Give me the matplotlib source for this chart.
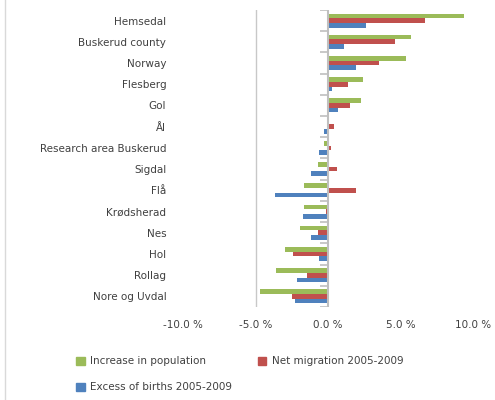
import matplotlib
matplotlib.use("Agg")
import matplotlib.pyplot as plt
import numpy as np
from matplotlib.lines import Line2D

categories = ["Hemsedal", "Buskerud county", "Norway", "Flesberg", "Gol", "Ål",
              "Research area Buskerud", "Sigdal", "Flå", "Krødsherad", "Nes",
              "Hol", "Rollag", "Nore og Uvdal"]
increase = [9.4, 5.7, 5.4, 2.4, 2.3, 0.0, -0.3, -0.7, -1.65, -1.65, -1.9, -3.0, -3.6, -4.7]
net_migration = [6.7, 4.6, 3.5, 1.4, 1.5, 0.4, 0.2, 0.6, 1.9, -0.15, -0.7, -2.4, -1.45, -2.5]
excess_births = [2.6, 1.1, 1.9, 0.3, 0.7, -0.3, -0.6, -1.2, -3.65, -1.7, -1.15, -0.6, -2.15, -2.3]
series_names = ["Increase in population", "Net migration 2005-2009", "Excess of births 2005-2009"]
xticks = [-10, -5, 0, 5, 10]
xticklabels = ["-10.0 %", "-5.0 %", "0.0 %", "5.0 %", "10.0 %"]

colors = ["#9BBB59", "#C0504D", "#4F81BD"]
W, H = 495, 400
fig = plt.figure(figsize=(W / 100, H / 100), dpi=100)
ax = fig.add_axes([183 / W, 1 - 307 / H, (473 - 183) / W, (307 - 10) / H])

n = len(categories)
pos = np.arange(n)[::-1].astype(float)
bh = 0.22
for k, (vals, c) in enumerate(zip([increase, net_migration, excess_births], colors)):
    ax.barh(pos + (1 - k) * bh, vals, height=bh, color=c, label=series_names[k], zorder=2)

ax.set_xlim(-10, 10)
ax.set_ylim(-0.5, n - 0.5)
ax.set_yticks(pos)
ax.set_yticklabels(categories, fontsize=7.5, color="#404040")
ax.tick_params(axis="y", length=0, pad=12)
ax.set_xticks(xticks)
ax.set_xticklabels(xticklabels, fontsize=7.5, color="#404040")
ax.tick_params(axis="x", length=0, pad=9)
for s in ax.spines.values():
    s.set_visible(False)

ax.axvline(0, color="#BFBFBF", lw=1.5, zorder=3)
ax.axvline(-5, color="#C8C8C8", lw=1.0, zorder=1)
ax.hlines(np.arange(n + 1) - 0.5, -0.55, 0, color="#BFBFBF", lw=1.2, zorder=3)

# chart area border (left edge)
fig.add_artist(Line2D([5 / W, 5 / W], [0, 1], transform=fig.transFigure, color="#D9D9D9", lw=1.0))

handles = [plt.Rectangle((0, 0), 1, 1, color=c) for c in colors]
fig.legend(handles[:2], series_names[:2], loc="upper left", bbox_to_anchor=(67 / W, 1 - 347 / H),
           ncol=2, frameon=False, fontsize=7.5, handlelength=0.8, handleheight=0.8,
           handletextpad=0.5, columnspacing=5.0, labelcolor="#404040")
fig.legend(handles[2:], series_names[2:], loc="upper left", bbox_to_anchor=(67 / W, 1 - 373 / H),
           frameon=False, fontsize=7.5, handlelength=0.8, handleheight=0.8,
           handletextpad=0.5, labelcolor="#404040")

fig.savefig("out.png", dpi=100)
